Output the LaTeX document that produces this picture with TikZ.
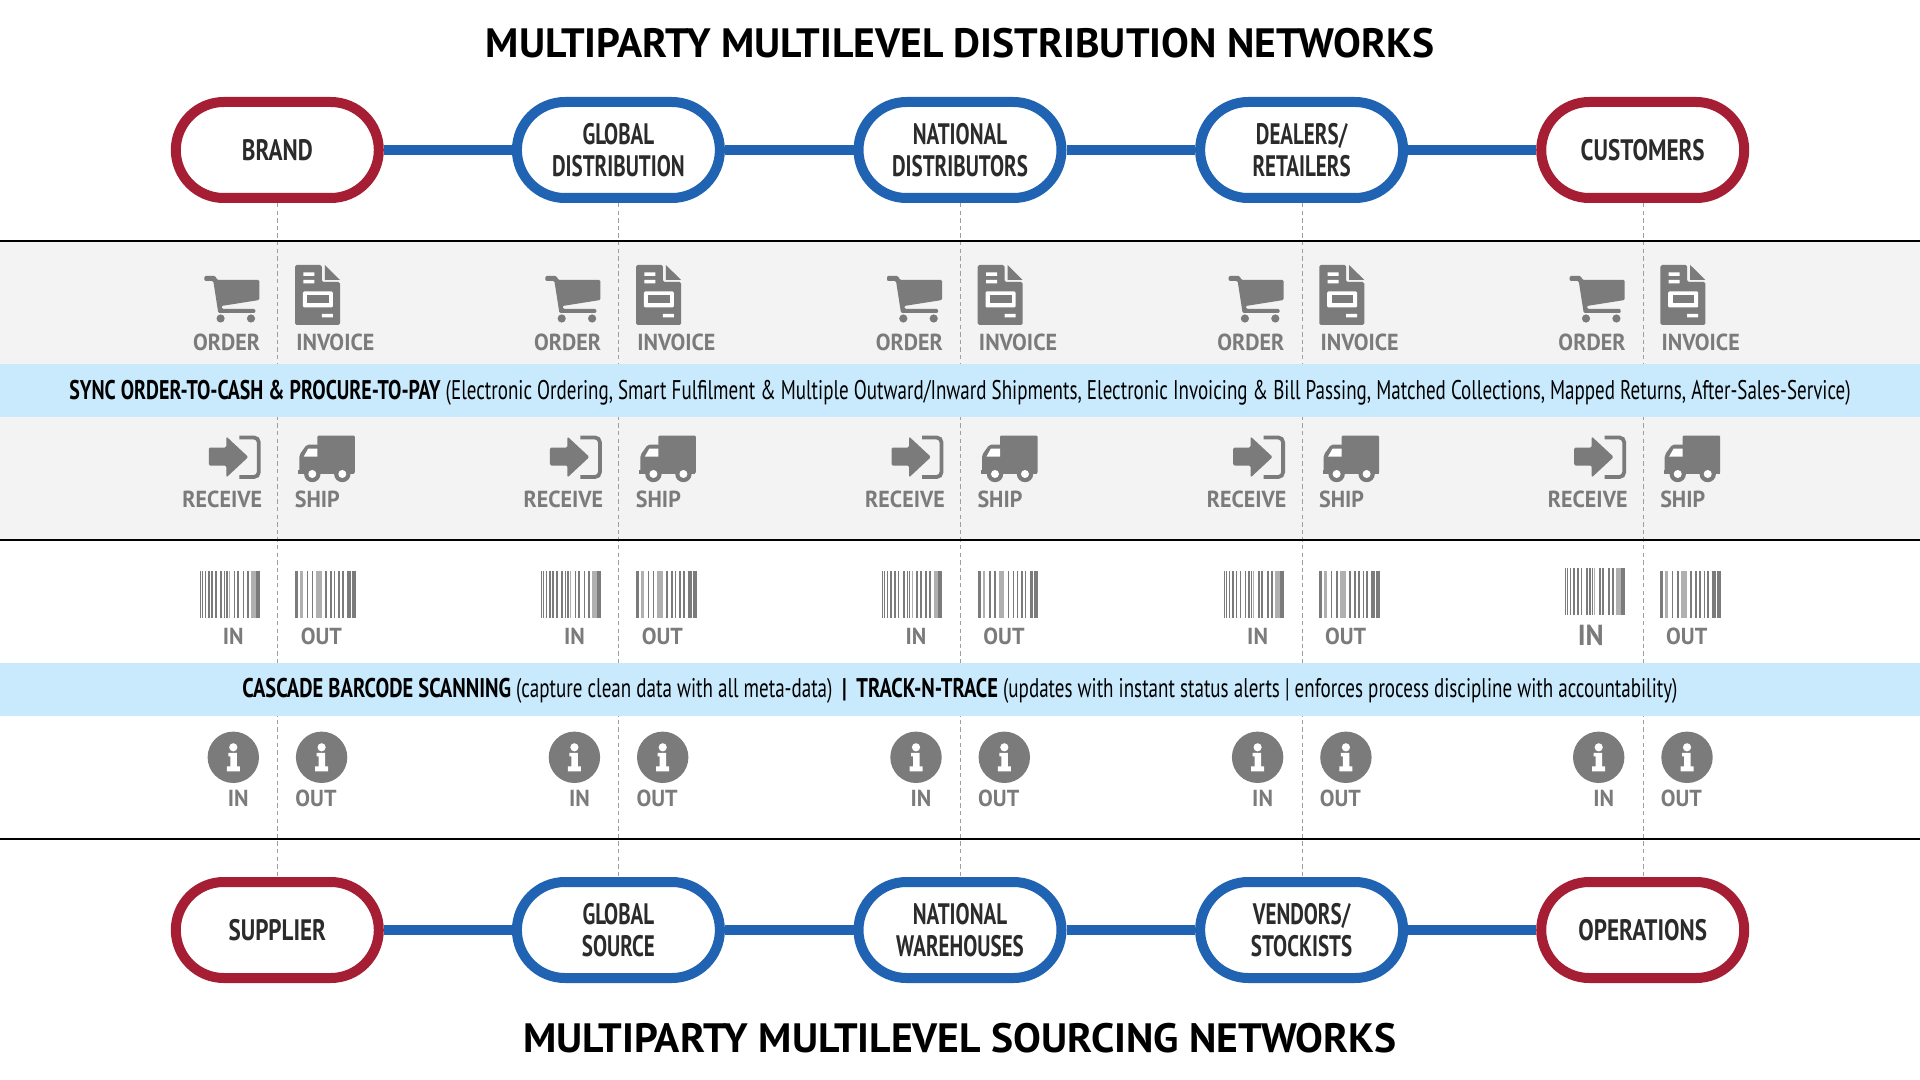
\documentclass[tikz,border=0pt]{standalone}
\usepackage{fontspec}
\usetikzlibrary{shapes.misc,backgrounds}
\setmainfont{PT Sans}
\newfontfamily\titlefont[FakeStretch=1.015]{PT Sans}
\newfontfamily\pillfont[FakeStretch=0.71]{PT Sans}
\newfontfamily\pillonefont[FakeStretch=0.78]{PT Sans}
\newfontfamily\bandfont[FakeStretch=0.705]{PT Sans}
\newfontfamily\syncbold[FakeStretch=0.738]{PT Sans}
\newfontfamily\scanbold[FakeStretch=0.76]{PT Sans}
\newfontfamily\labelfont[FakeStretch=0.95]{PT Sans}
\definecolor{redc}{HTML}{A51E34}
\definecolor{bluec}{HTML}{1F63B2}
\definecolor{skyc}{HTML}{C9EAFD}
\definecolor{greyband}{HTML}{F3F3F3}
\definecolor{icong}{HTML}{7B7B7B}
\definecolor{lightg}{HTML}{B0B0B0}
\definecolor{inkc}{HTML}{2B2B2B}
\tikzset{
  x=0.5pt,y=-0.5pt,
  pillbox/.style={rounded rectangle,rounded rectangle arc length=180,draw,line width=5pt,fill=white,
    minimum width=101.5pt,minimum height=48pt,inner sep=0pt,outer sep=2.5pt,align=center,
    font=\pillfont\bfseries\fontsize{14.8}{16}\selectfont,text=inkc},
  redpill/.style={pillbox,draw=redc,font=\pillonefont\bfseries\fontsize{14.8}{16}\selectfont},
  bluepill/.style={pillbox,draw=bluec},
  linkline/.style={draw=bluec,line width=5pt},
  guide/.style={draw=gray!75,line width=0.4pt,dash pattern=on 2.2pt off 1.6pt},
  rulel/.style={draw=black,line width=0.6pt},
  ttl/.style={font=\titlefont\bfseries\fontsize{20.5}{24}\selectfont,text=black,inner sep=0pt},
  lab/.style={font=\labelfont\bfseries\fontsize{11.6}{13}\selectfont,text=icong,inner sep=0pt},
  bandtxt/.style={font=\bandfont\fontsize{13.5}{15}\selectfont,text=black,inner sep=0pt},
  cart/.pic={
    \fill[icong,rounded corners=0.6pt] (-73,276) -- (-62,276) -- (-60,280) -- (-18,280) -- (-18,300) -- (-56,306) -- (-55,309) -- (-22,309) -- (-22,313) -- (-59,313) -- (-64,281) -- (-73,281) -- cycle;
    \fill[icong] (-56.7,318.5) circle (4.1) (-26.3,318.5) circle (4.1);
  },
  invoicepic/.pic={
    \fill[icong,rounded corners=0.8pt] (17.7,265) -- (44.5,265) -- (44.5,282) -- (62.7,282) -- (62.7,325) -- (17.7,325) -- cycle;
    \fill[icong] (47.5,265) -- (62.7,280) -- (47.5,280) -- cycle;
    \fill[white] (26,272.5) rectangle (37,276) (26,280) rectangle (37,283.5) (44.5,314) rectangle (55.5,317.5);
    \fill[white,rounded corners=0.6pt] (25.5,291.5) rectangle (55.5,307.5);
    \fill[icong] (30,295) rectangle (51.5,303.5);
  },
  receivepic/.pic={
    \fill[icong,rounded corners=0.7pt] (-68.5,447.5) -- (-51,447.5) -- (-51,436.5) -- (-29,457) -- (-51,477.5) -- (-51,465.5) -- (-68.5,465.5) -- cycle;
    \draw[icong,line width=1.9pt,rounded corners=2.4pt] (-38,437.5) -- (-18.5,437.5) -- (-18.5,477) -- (-38,477);
  },
  truckpic/.pic={
    \fill[icong,rounded corners=0.6pt] (40,435.5) rectangle (77.5,473.5);
    \fill[icong,rounded corners=1pt] (22,473.5) -- (22,455) -- (29.5,444.5) -- (41,444.5) -- (41,473.5) -- cycle;
    \fill[icong] (21,470) rectangle (77,473.5);
    \fill[white] (26.5,456.5) -- (31,448.5) -- (40,448.5) -- (40,456.5) -- cycle;
    \fill[icong] (35,474) circle (8.2) (65,474) circle (8.2);
    \fill[white] (35,474) circle (4) (65,474) circle (4);
  },
  inbars/.pic={
    \foreach \a/\w in {0.5/1,2.5/1.2,5.7/1,8.7/1.8,12.3/1.8,16.3/1.2,21.3/1.8,25/1.2,27.3/1.2,34.7/1.5,38/2,43.5/1.8,47.5/2,56.5/4}
      \fill[icong] (\a,0) rectangle ++(\w,47);
    \fill[lightg] (52,0) rectangle ++(4.5,47);
    \fill[lightg] (30,0) rectangle ++(1,47);
  },
  outbars/.pic={
    \foreach \a/\w in {0/3,11.7/1.2,16.7/1.6,30/1.6,35/1.6,39/1.2,43.3/1.6,47/1.6,52/3.5,56.6/4}
      \fill[icong] (\a,0) rectangle ++(\w,47);
    \fill[lightg] (5,0) rectangle ++(2.5,47);
    \fill[lightg] (21,0) rectangle ++(5.5,47);
  },
  infopic/.pic={
    \fill[icong] (0,0) circle (25.7);
    \fill[white] (0,-10) circle (4.1);
    \fill[white] (-5,-4.5) -- (3.5,-4.5) -- (3.5,9) -- (6.5,9) -- (6.5,14) -- (-6.5,14) -- (-6.5,9) -- (-3,9) -- (-3,-1) -- (-5,-1) -- cycle;
  }
}
\begin{document}
\begin{tikzpicture}
\useasboundingbox (0,0) rectangle (1920,1080);
% grey bands
\fill[greyband] (0,241) rectangle (1920,364);
\fill[greyband] (0,417) rectangle (1920,540);
% titles
\node[ttl] (toptitle) at (960,43) {MULTIPARTY MULTILEVEL DISTRIBUTION NETWORKS};
\node[ttl] (bottomtitle) at (960,1038) {MULTIPARTY MULTILEVEL SOURCING NETWORKS};
% pills
\node[redpill]  (brand)  at (277.3,150) {BRAND};
\node[bluepill] (gd)     at (618.4,150) {GLOBAL\\DISTRIBUTION};
\node[bluepill] (nd)     at (960,150)   {NATIONAL\\DISTRIBUTORS};
\node[bluepill] (dr)     at (1301.6,150){DEALERS/\\RETAILERS};
\node[redpill]  (cust)   at (1642.7,150){CUSTOMERS};
\node[redpill]  (supp)   at (277.3,930) {SUPPLIER};
\node[bluepill] (gs)     at (618.4,930) {GLOBAL\\SOURCE};
\node[bluepill] (nw)     at (960,930)   {NATIONAL\\WAREHOUSES};
\node[bluepill] (vs)     at (1301.6,930){VENDORS/\\STOCKISTS};
\node[redpill]  (oper)   at (1642.7,930){OPERATIONS};
% connectors
\foreach \a/\b in {brand/gd,gd/nd,nd/dr,dr/cust,supp/gs,gs/nw,nw/vs,vs/oper}
  \draw[linkline] (\a.east) -- (\b.west);
% guides
\foreach \a/\b in {brand/supp,gd/gs,nd/nw,dr/vs,cust/oper}
  \draw[guide] ([xshift=0.2pt]\a.south) -- ([xshift=0.2pt]\b.north);
% blue bands
\fill[skyc] (0,364) rectangle (1920,417);
\fill[skyc] (0,663) rectangle (1920,716);
% rules
\coordinate (r1a) at (0,241); \coordinate (r1b) at (1920,241);
\coordinate (r2a) at (0,540); \coordinate (r2b) at (1920,540);
\coordinate (r3a) at (0,839); \coordinate (r3b) at (1920,839);
\draw[rulel] (r1a) -- (r1b);
\draw[rulel] (r2a) -- (r2b);
\draw[rulel] (r3a) -- (r3b);
% band texts
\node[bandtxt] (synctext) at (960,393) {{\syncbold\bfseries SYNC ORDER-TO-CASH \& PROCURE-TO-PAY} (Electronic Ordering, Smart Fulfilment \& Multiple Outward/Inward Shipments, Electronic Invoicing \& Bill Passing, Matched Collections, Mapped Returns, After-Sales-Service)};
\node[bandtxt] (scantext) at (960,691) {{\scanbold\bfseries CASCADE BARCODE SCANNING} (capture clean data with all meta-data) {\scanbold\bfseries\,|\, TRACK-N-TRACE} (updates with instant status alerts | enforces process discipline with accountability)};
% icon columns
\foreach \c/\n in {277.3/a,618.4/b,960/c,1301.6/d,1642.7/e}{
  \begin{scope}[shift={(\c,0)}]
    \pic {cart};
    \pic {invoicepic};
    \pic {receivepic};
    \pic {truckpic};
    \node[lab] (order\n) at (-50.7,342.5) {ORDER};
    \node[lab] (invoice\n) at (58,342.5) {INVOICE};
    \node[lab] (receive\n) at (-55,499.5) {RECEIVE};
    \node[lab] (ship\n) at (40,499.5) {SHIP};
    \pic at (17.7,571.3) {outbars};
    \node[lab] (bout\n) at (44,636) {OUT};
    \pic at (-44,757.3) {infopic};
    \pic at (44.3,757.3) {infopic};
    \node[lab] (iin\n) at (-39,798) {IN};
    \node[lab] (iout\n) at (38.7,798) {OUT};
  \end{scope}
}
\foreach \c/\n in {277.3/a,618.4/b,960/c,1301.6/d}{
  \begin{scope}[shift={(\c,0)}]
    \pic at (-78.3,571.3) {inbars};
    \node[lab] (bin\n) at (-44,636) {IN};
  \end{scope}
}
\begin{scope}[shift={(1642.7,0)}]
  \pic at (-78.3,568) {inbars};
  \node[lab,font=\labelfont\bfseries\fontsize{14.5}{16}\selectfont] (bine) at (-52,635) {IN};
\end{scope}
\end{tikzpicture}
\end{document}
